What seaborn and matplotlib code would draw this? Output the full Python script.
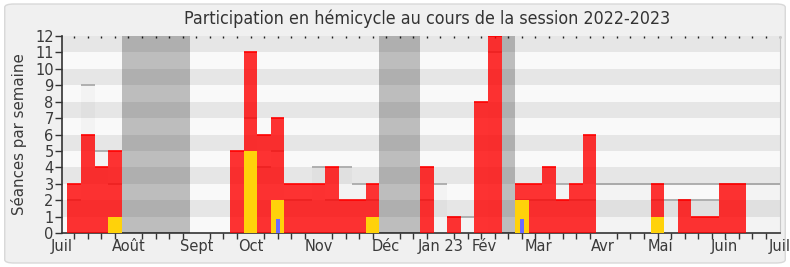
import numpy as np
import pandas as pd
import matplotlib
matplotlib.use("Agg")
import matplotlib.pyplot as plt
from matplotlib.patches import FancyBboxPatch
import seaborn as sns

# ---------------- data ----------------
weeks = list(range(53))
presences = [3, 6, 4, 5, 0, 0, 0, 0, 0, 0, 0, 0, 5, 11, 6, 7, 3, 3, 3, 4, 2, 2, 3,
             0, 0, 0, 4, 0, 1, 0, 8, 12, 0, 3, 3, 4, 2, 3, 6, 0, 0, 0, 0, 3, 0, 2,
             1, 1, 3, 3, 0, 0, 0]
interventions = [0, 0, 0, 1, 0, 0, 0, 0, 0, 0, 0, 0, 0, 5, 0, 2, 0, 0, 0, 0, 0, 0, 1,
                 0, 0, 0, 0, 0, 0, 0, 0, 0, 0, 2, 0, 0, 0, 0, 0, 0, 0, 0, 0, 1, 0, 0,
                 0, 0, 0, 0, 0, 0, 0]
questions = [0] * 15 + [0.85] + [0] * 17 + [0.85] + [0] * 19
mediane = [2, 9, 5, 3, 0, 0, 0, 0, 0, 0, 0, 0, 0, 7, 4, 5, 2, 2, 4, 2, 4, 3, 2,
           0, 0, 0, 2, 3, 1, 1, 0, 11, 0, 2, 2, 2, 3, 2, 2, 3, 3, 3, 3, 2, 2, 2,
           2, 2, 3, 3, 3, 3, 3]
seances = [0] * 39 + [3] * 14
vacances = [(3.5, 8.5), (22.5, 25.5), (31.5, 32.5)]
month_labels = ["Juil", "Août", "Sept", "Oct", "Nov", "Déc", "Jan 23", "Fév",
                "Mar", "Avr", "Mai", "Juin", "Juil"]
month_pos = [-0.9, 4, 9, 13, 18, 23, 27, 30.2, 34.2, 39, 43.2, 47.9, 52]
title = "Participation en hémicycle au cours de la session 2022-2023"
ylabel = "Séances par semaine"

df = pd.DataFrame({"week": weeks, "presences": presences,
                   "interventions": interventions, "questions": questions,
                   "mediane": mediane, "seances": seances})

# ---------------- figure ----------------
sns.set_style("white")
plt.rcParams["font.family"] = ["DejaVu Sans"]
fig = plt.figure(figsize=(7.9, 2.67), dpi=100)
fig.patch.set_facecolor("white")
frame = FancyBboxPatch((0.006, 0.015), 0.988, 0.97,
                       boxstyle="round,pad=0,rounding_size=0.012",
                       transform=fig.transFigure, facecolor="#f0f0f0",
                       edgecolor="#d8d8d8", linewidth=1.0, zorder=-10)
fig.patches.append(frame)

ax = fig.add_axes([62 / 790, 1 - 233 / 267, (780 - 62) / 790, (233 - 36) / 267])
ax.set_zorder(1)
ax.set_facecolor("#f9f9f9")

# alternating background bands
for i in range(12):
    ax.axhspan(i, i + 1, color="#e6e6e6" if i % 2 else "#f9f9f9", lw=0, zorder=0)

order = weeks
# median bars (light, translucent) + grey top lines
sns.barplot(data=df, x="week", y="mediane", order=order, color="black", alpha=0.025,
            width=1.0, saturation=1, errorbar=None, linewidth=0, ax=ax, zorder=1)
med = df[df["mediane"] > 0]
ax.hlines(med["mediane"], med["week"] - 0.5, med["week"] + 0.5, color="#aaaaaa",
          lw=1.3, zorder=2)
sea = df[df["seances"] > 0]
ax.hlines(sea["seances"], sea["week"] - 0.5, sea["week"] + 0.5, color="#aaaaaa",
          lw=1.3, zorder=2)

# presences (red)
sns.barplot(data=df, x="week", y="presences", order=order, color="#ff0000", alpha=0.8,
            width=1.0, saturation=1, errorbar=None, linewidth=0, ax=ax, zorder=3)
pr = df[df["presences"] > 0]
ax.hlines(pr["presences"], pr["week"] - 0.5, pr["week"] + 0.5, color="#ff0000",
          lw=1.2, zorder=3.5)
# interventions (yellow)
sns.barplot(data=df, x="week", y="interventions", order=order, color="#ffd20a",
            width=1.0, saturation=1, errorbar=None, linewidth=0, ax=ax, zorder=4)
# questions (blue, narrow)
sns.barplot(data=df, x="week", y="questions", order=order, color="#6b6bff",
            width=0.3, saturation=1, errorbar=None, linewidth=0, ax=ax, zorder=5)

# vacations
for a, b in vacances:
    ax.axvspan(a, b, color="black", alpha=0.24, lw=0, zorder=6)

ax.set_xlim(-0.88, 52.03)
ax.set_ylim(0, 12)
ax.set_yticks(range(13))
ax.set_xticks(month_pos)
ax.set_xticklabels(month_labels)
ax.set_xticks(weeks, minor=True)
ax.tick_params(axis="x", which="major", length=0, pad=4, labelsize=10.5,
               labelcolor="#3a3a3a", bottom=True)
ax.tick_params(axis="x", which="minor", length=4, width=1, color="#333333",
               direction="out", bottom=True)
ax.tick_params(axis="y", length=5, width=1, color="#333333", labelsize=10.5,
               labelcolor="#3a3a3a", pad=1, left=True)
ax.set_xlabel("")
ax.set_ylabel(ylabel, fontsize=10.8, color="#3a3a3a", labelpad=6)

top = ax.secondary_xaxis("top")
top.set_xticks(weeks)
top.set_xticklabels([])
top.tick_params(length=1.5, width=1.0, direction="in", color="#222222", top=True)
top.spines["top"].set_visible(False)

ax.spines["top"].set_visible(False)
ax.spines["right"].set_color("#c8c8c8")
ax.spines["left"].set_color("#333333")
ax.spines["bottom"].set_color("#333333")
ax.spines["left"].set_linewidth(1.2)
ax.spines["bottom"].set_linewidth(1.2)

fig.text(0.54, 0.928, title, ha="center", va="center", fontsize=12.8,
         color="#333333", fontstretch="condensed")

fig.savefig("out.png", dpi=100, facecolor=fig.get_facecolor())
